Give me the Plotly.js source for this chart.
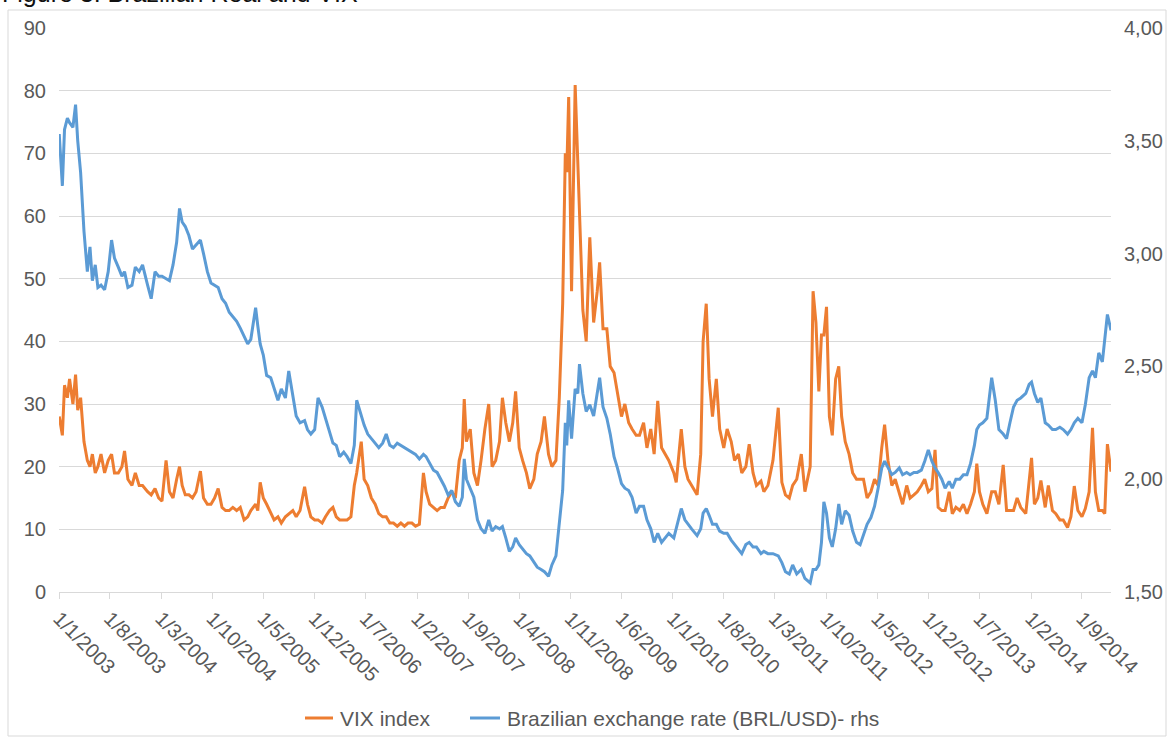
<!DOCTYPE html>
<html>
<head>
<meta charset="utf-8">
<script src="https://cdn.plot.ly/plotly-3.0.1.min.js"></script>
<style>
  html, body { margin: 0; padding: 0; background: #ffffff; }
  #chart { width: 1175px; height: 737px; }
</style>
</head>
<body>
<div id="chart"></div>
<script>
// ---- Data ----
const dates = [
  // 2003
  '2003-01-02','2003-01-15','2003-01-24','2003-02-05','2003-02-14','2003-02-28','2003-03-11','2003-03-20','2003-04-01','2003-04-15','2003-04-29','2003-05-10','2003-05-20','2003-06-01','2003-06-12','2003-06-25','2003-07-10','2003-07-25','2003-08-08','2003-08-20','2003-09-05','2003-09-20','2003-10-01','2003-10-15','2003-11-01','2003-11-15','2003-12-01','2003-12-15',
  // 2004
  '2004-01-05','2004-01-20','2004-02-05','2004-02-20','2004-03-05','2004-03-22','2004-04-05','2004-04-20','2004-05-05','2004-05-17','2004-05-28','2004-06-10','2004-06-25','2004-07-10','2004-07-25','2004-08-12','2004-08-25','2004-09-10','2004-09-25','2004-10-10','2004-10-25','2004-11-10','2004-11-25','2004-12-10','2004-12-25',
  // 2005
  '2005-01-10','2005-01-25','2005-02-10','2005-02-25','2005-03-10','2005-03-30','2005-04-08','2005-04-18','2005-05-01','2005-05-15','2005-06-01','2005-06-15','2005-07-01','2005-07-15','2005-08-01','2005-08-15','2005-09-01','2005-09-15','2005-10-01','2005-10-20','2005-11-01','2005-11-15','2005-12-01','2005-12-15',
  // 2006
  '2006-01-01','2006-01-15','2006-02-01','2006-02-15','2006-03-01','2006-03-15','2006-04-01','2006-04-15','2006-05-01','2006-05-15','2006-05-25','2006-06-13','2006-06-25','2006-07-10','2006-07-25','2006-08-10','2006-08-25','2006-09-10','2006-09-25','2006-10-10','2006-10-25','2006-11-10','2006-11-25','2006-12-10','2006-12-25',
  // 2007
  '2007-01-10','2007-01-25','2007-02-10','2007-02-27','2007-03-10','2007-03-25','2007-04-10','2007-04-25','2007-05-10','2007-05-25','2007-06-10','2007-06-25','2007-07-10','2007-07-26','2007-08-08','2007-08-16','2007-08-25','2007-09-10','2007-09-25','2007-10-10','2007-10-25','2007-11-10','2007-11-26','2007-12-10','2007-12-25',
  // 2008
  '2008-01-10','2008-01-22','2008-02-05','2008-02-20','2008-03-05','2008-03-17','2008-04-01','2008-04-15','2008-05-01','2008-05-15','2008-06-01','2008-06-15','2008-07-01','2008-07-15','2008-08-01','2008-08-15','2008-09-01','2008-09-15','2008-09-29','2008-10-10','2008-10-16','2008-10-24','2008-11-05','2008-11-20','2008-12-01','2008-12-08','2008-12-22',
  // 2009
  '2009-01-05','2009-01-20','2009-02-05','2009-02-20','2009-03-02','2009-03-16','2009-04-01','2009-04-15','2009-05-01','2009-05-15','2009-06-01','2009-06-15','2009-07-01','2009-07-15','2009-08-01','2009-08-15','2009-09-01','2009-09-15','2009-10-01','2009-10-15','2009-10-30','2009-11-15','2009-12-01','2009-12-15',
  // 2010
  '2010-01-05','2010-01-15','2010-02-05','2010-02-20','2010-03-05','2010-03-20','2010-04-12','2010-04-27','2010-05-07','2010-05-20','2010-06-01','2010-06-15','2010-07-01','2010-07-15','2010-08-01','2010-08-15','2010-09-01','2010-09-15','2010-10-01','2010-10-15','2010-11-01','2010-11-15','2010-12-01','2010-12-15',
  // 2011
  '2011-01-03','2011-01-15','2011-02-01','2011-02-22','2011-03-16','2011-03-31','2011-04-15','2011-05-01','2011-05-15','2011-06-01','2011-06-20','2011-07-05','2011-07-27','2011-08-08','2011-08-20','2011-09-01','2011-09-12','2011-09-22','2011-10-03','2011-10-15','2011-10-27','2011-11-10','2011-11-23','2011-12-05','2011-12-20',
  // 2012
  '2012-01-05','2012-01-20','2012-02-05','2012-02-20','2012-03-05','2012-03-20','2012-04-05','2012-04-20','2012-05-05','2012-05-20','2012-06-01','2012-06-15','2012-07-01','2012-07-15','2012-08-01','2012-08-15','2012-09-01','2012-09-15','2012-10-01','2012-10-15','2012-11-01','2012-11-15','2012-11-30','2012-12-15','2012-12-28',
  // 2013
  '2013-01-10','2013-01-25','2013-02-08','2013-02-25','2013-03-10','2013-03-25','2013-04-10','2013-04-25','2013-05-10','2013-05-25','2013-06-10','2013-06-20','2013-07-01','2013-07-15','2013-08-01','2013-08-21','2013-09-05','2013-09-20','2013-10-08','2013-10-22','2013-11-05','2013-11-20','2013-12-05','2013-12-20',
  // 2014
  '2014-01-10','2014-01-24','2014-02-03','2014-02-15','2014-03-01','2014-03-14','2014-04-01','2014-04-14','2014-05-01','2014-05-15','2014-06-01','2014-06-15','2014-07-03','2014-07-17','2014-07-31','2014-08-15','2014-09-01','2014-09-15','2014-10-01','2014-10-15','2014-10-27','2014-11-10','2014-11-25','2014-12-05','2014-12-16','2014-12-31'
];

const vixIndex = [
  28,25,33,31,34,30,34.7,29,31,24,21,20,22,19,20,22,19,21,22,19,19,20,22.5,18,17,19,17,17,
  16,15.5,16.5,15,14.5,21,16,15,18,20,17,15.5,15.5,15,16,19.3,15,14,14,15,16.5,13.5,13,13,13.5,
  13,13.5,11.5,12,13,14,13,17.5,15,14,12.5,11.5,12,11,12,12.5,13,12,13,16.8,14,12,11.5,11.5,
  11,12,13,13.5,12,11.5,11.5,11.5,12,17,19,24,18,17,15,14,12.5,12,12,11,11,10.5,11,10.5,11,
  11,10.5,10.8,19,16,14,13.5,13,13.5,13.5,15,16,15,21,23,30.8,24,26,19,17,21,26,30,20,21,
  24,31,27,24,27,32,23,21,19,16.5,18,22,24,28,22,20,21,31,46,70,67,79,48,80.9,68,58,45,
  40,56.6,43,48,52.6,42,42,36,35,32,28,30,27,26,25,25,27,23,26,22,30.5,23,22,21,
  19,17.5,26,20,18,17,15.5,22,40,46,34,28,34,26,23,26,24,21,22,19,20,23.6,19,17,
  17.7,16,17,21,29.4,17.5,15.5,15,17,18,22,16,20,48,43,32,41,41,45.5,28,25,34,36,28,24,
  22,19,18,18,18,15,16,18,17,23,26.7,21,17,18,16,14,17,15,15.5,16,17,18,16,16.5,22.7,
  13.5,13,13,16,12.5,13.5,13,14,12.5,14,16,20.5,16,14,12.5,16,16,14,20.3,13,13,13,15,13.5,
  12.5,18,21.4,14,15,17.8,13.5,17,13,12.5,11.5,11.5,10.3,12,16.9,13,12,13.3,16,26.2,16,13,13,12.5,23.6,19.2
];

const brlUsd = [
  3.53,3.30,3.55,3.60,3.58,3.56,3.66,3.50,3.36,3.10,2.92,3.03,2.88,2.95,2.85,2.86,2.84,2.92,3.06,2.98,2.94,2.90,2.92,2.85,2.86,2.94,2.92,2.95,
  2.86,2.80,2.92,2.90,2.90,2.89,2.88,2.95,3.05,3.20,3.14,3.12,3.08,3.02,3.04,3.06,3.00,2.92,2.87,2.86,2.85,2.80,2.78,2.74,2.72,
  2.70,2.67,2.63,2.60,2.62,2.76,2.68,2.60,2.55,2.46,2.45,2.40,2.35,2.40,2.36,2.48,2.36,2.28,2.25,2.26,2.22,2.20,2.22,2.36,
  2.32,2.27,2.22,2.16,2.15,2.10,2.12,2.10,2.07,2.15,2.35,2.28,2.24,2.20,2.18,2.16,2.14,2.16,2.20,2.15,2.14,2.16,2.15,2.14,2.13,
  2.12,2.11,2.09,2.11,2.10,2.07,2.04,2.03,2.00,1.97,1.93,1.95,1.90,1.88,1.92,2.09,2.00,1.96,1.92,1.82,1.78,1.76,1.82,1.77,1.79,
  1.78,1.79,1.74,1.68,1.70,1.74,1.71,1.69,1.67,1.66,1.63,1.61,1.60,1.59,1.57,1.62,1.66,1.80,1.95,2.25,2.15,2.35,2.18,2.40,2.38,2.51,2.38,
  2.30,2.33,2.28,2.39,2.45,2.32,2.27,2.20,2.10,2.05,1.98,1.96,1.95,1.92,1.85,1.88,1.88,1.82,1.78,1.72,1.76,1.72,1.74,1.76,
  1.74,1.78,1.87,1.82,1.80,1.78,1.75,1.78,1.85,1.87,1.84,1.80,1.80,1.77,1.76,1.76,1.73,1.71,1.69,1.67,1.71,1.72,1.70,1.70,
  1.67,1.68,1.67,1.67,1.66,1.63,1.59,1.58,1.62,1.58,1.60,1.56,1.54,1.60,1.60,1.62,1.72,1.90,1.85,1.74,1.70,1.78,1.89,1.80,1.86,
  1.84,1.77,1.72,1.71,1.75,1.80,1.83,1.88,1.96,2.05,2.08,2.05,2.02,2.03,2.05,2.02,2.03,2.02,2.03,2.03,2.04,2.08,2.13,2.08,2.05,
  2.03,2.00,1.96,1.99,1.96,2.00,2.00,2.02,2.02,2.07,2.15,2.22,2.24,2.25,2.27,2.45,2.35,2.22,2.20,2.18,2.25,2.32,2.35,2.36,
  2.38,2.42,2.43,2.38,2.34,2.36,2.25,2.24,2.22,2.22,2.23,2.22,2.20,2.22,2.25,2.27,2.25,2.33,2.45,2.48,2.45,2.56,2.52,2.62,2.73,2.66
];

const tickDates = ['2003-01-01','2003-08-01','2004-03-01','2004-10-01','2005-05-01','2005-12-01','2006-07-01',
  '2007-02-01','2007-09-01','2008-04-01','2008-11-01','2009-06-01','2010-01-01','2010-08-01','2011-03-01',
  '2011-10-01','2012-05-01','2012-12-01','2013-07-01','2014-02-01','2014-09-01'];
const tickLabels = ['1/1/2003','1/8/2003','1/3/2004','1/10/2004','1/5/2005','1/12/2005','1/7/2006',
  '1/2/2007','1/9/2007','1/4/2008','1/11/2008','1/6/2009','1/1/2010','1/8/2010','1/3/2011',
  '1/10/2011','1/5/2012','1/12/2012','1/7/2013','1/2/2014','1/9/2014'];

const seriesNames = ['VIX index', 'Brazilian exchange rate (BRL/USD)- rhs'];
const seriesColors = ['#ED7D31', '#5B9BD5'];
const chartTitle = 'Figure 3: Brazilian Real and VIX';

// ---- Chart ----
const FONT = 'Liberation Sans, Arial, sans-serif';
const GREY = '#595959';
const GRID = '#d9d9d9';

const traces = [
  { x: dates, y: vixIndex, name: seriesNames[0], type: 'scatter', mode: 'lines',
    line: { color: seriesColors[0], width: 3 }, yaxis: 'y' },
  { x: dates, y: brlUsd, name: seriesNames[1], type: 'scatter', mode: 'lines',
    line: { color: seriesColors[1], width: 3 }, yaxis: 'y2' }
];

// plot area in pixels: x 59..1111, y 28..592
const L = 59, R = 1111, T = 28, B = 592;
const W = R - L, H = B - T;
const px = v => (v - L) / W;
const py = v => (B - v) / H;

// legend drawn below the plot (line sample + label), placed like the reference
const legendY = 718;
const legendItems = [
  { x0: 305, x1: 333, tx: 338 },
  { x0: 470, x1: 500, tx: 505 }
];
const legendShapes = legendItems.map((it, i) => ({
  type: 'line', xref: 'paper', yref: 'paper',
  x0: px(it.x0), x1: px(it.x1), y0: py(legendY), y1: py(legendY),
  line: { color: seriesColors[i], width: 3 }
}));
const legendLabels = legendItems.map((it, i) => ({
  text: seriesNames[i], xref: 'paper', yref: 'paper', x: px(it.tx), y: py(legendY),
  xanchor: 'left', yanchor: 'middle', showarrow: false,
  font: { family: FONT, size: 21, color: GREY }
}));

const layout = {
  width: 1175, height: 737,
  margin: { l: L, r: 1175 - R, t: T, b: 737 - B, pad: 0 },
  paper_bgcolor: '#ffffff', plot_bgcolor: '#ffffff',
  font: { family: FONT, size: 20, color: GREY },
  separators: ',.',
  showlegend: false,
  xaxis: {
    type: 'date', range: ['2003-01-01', '2014-12-31'],
    tickmode: 'array', tickvals: tickDates, ticktext: tickLabels, tickangle: 45,
    ticks: 'outside', ticklen: 6, tickcolor: GRID, tickwidth: 1,
    showline: true, linecolor: GRID, linewidth: 1,
    showgrid: false, zeroline: false,
    tickfont: { family: FONT, size: 20, color: GREY }
  },
  yaxis: {
    range: [0, 90], dtick: 10, tick0: 0,
    showgrid: true, gridcolor: GRID, gridwidth: 1,
    zeroline: false, showline: false, ticks: '',
    tickfont: { family: FONT, size: 20, color: GREY },
    ticklabelstandoff: 12
  },
  yaxis2: {
    overlaying: 'y', side: 'right',
    range: [1.5, 4.0], dtick: 0.5, tick0: 1.5, tickformat: '.2f',
    showgrid: false, zeroline: false, showline: false, ticks: '',
    tickfont: { family: FONT, size: 20, color: GREY },
    ticklabelstandoff: 12
  },
  shapes: [
    { type: 'rect', xref: 'paper', yref: 'paper',
      x0: px(8), x1: px(1166), y0: py(736), y1: py(10),
      line: { color: GRID, width: 1 }, fillcolor: 'rgba(0,0,0,0)', layer: 'below' }
  ].concat(legendShapes),
  annotations: [
    { text: chartTitle, xref: 'paper', yref: 'paper', x: px(0), y: py(9),
      xanchor: 'left', yanchor: 'bottom', showarrow: false,
      font: { family: FONT, size: 25, color: '#111111' } }
  ].concat(legendLabels)
};

Plotly.newPlot('chart', traces, layout, { displayModeBar: false, staticPlot: true });
</script>
</body>
</html>
